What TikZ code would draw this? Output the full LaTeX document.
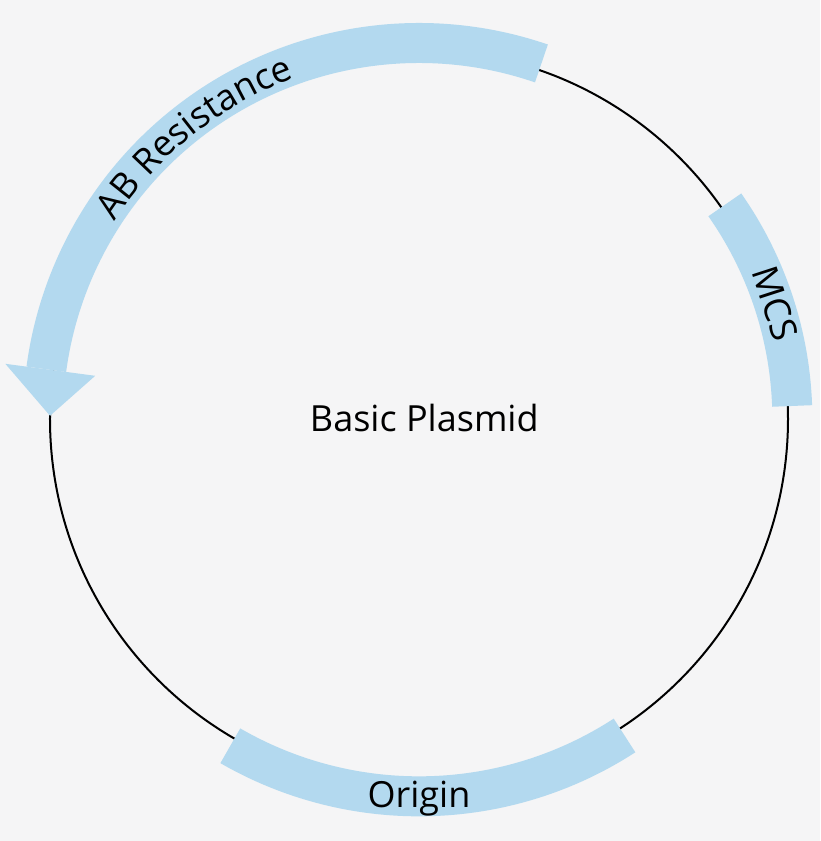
\documentclass[tikz,border=0pt]{standalone}
\usepackage{fontspec}
\setmainfont{Open Sans}
\usetikzlibrary{decorations.text}
\definecolor{bandblue}{HTML}{B3D9EF}
\definecolor{paper}{HTML}{F5F5F6}
\tikzset{
  band/.style={draw=bandblue, line width=30pt},
  label/.style={font=\fontsize{27}{31}\selectfont},
}
\begin{document}
\begin{tikzpicture}
        \fill [paper] (-314.25pt,-316.5pt) rectangle (300.75pt,314.25pt);
        \useasboundingbox (-314.25pt,-316.5pt) rectangle (300.75pt,314.25pt);
        \draw [black, line width=1.5pt] (0,0) circle (276.75pt);
        % AB resistance arrow
        \draw [band] (71:282pt) arc (71:172.4:282pt);
        \fill [bandblue] (172.4:245pt) -- (172.4:313pt) -- (179.5:276.75pt) -- cycle;
        \path [decorate, decoration={text along path, text align=center,
          text={|\fontsize{27}{31}\selectfont|AB Resistance}}]
          (159:272pt) arc (159:98:272pt);
        % MCS
        \draw [band] (35:280pt) arc (35:2:280pt);
        \node (mcs) [label, rotate=-72] at (18:281pt) {MCS};
        % origin
        \draw [band] (240:283pt) arc (240:303:283pt);
        \node (origin) [label] at (270:285pt) {Origin};
        \node (plasmid) [label] at (4pt,1pt) {Basic Plasmid};
\end{tikzpicture}
\end{document}
